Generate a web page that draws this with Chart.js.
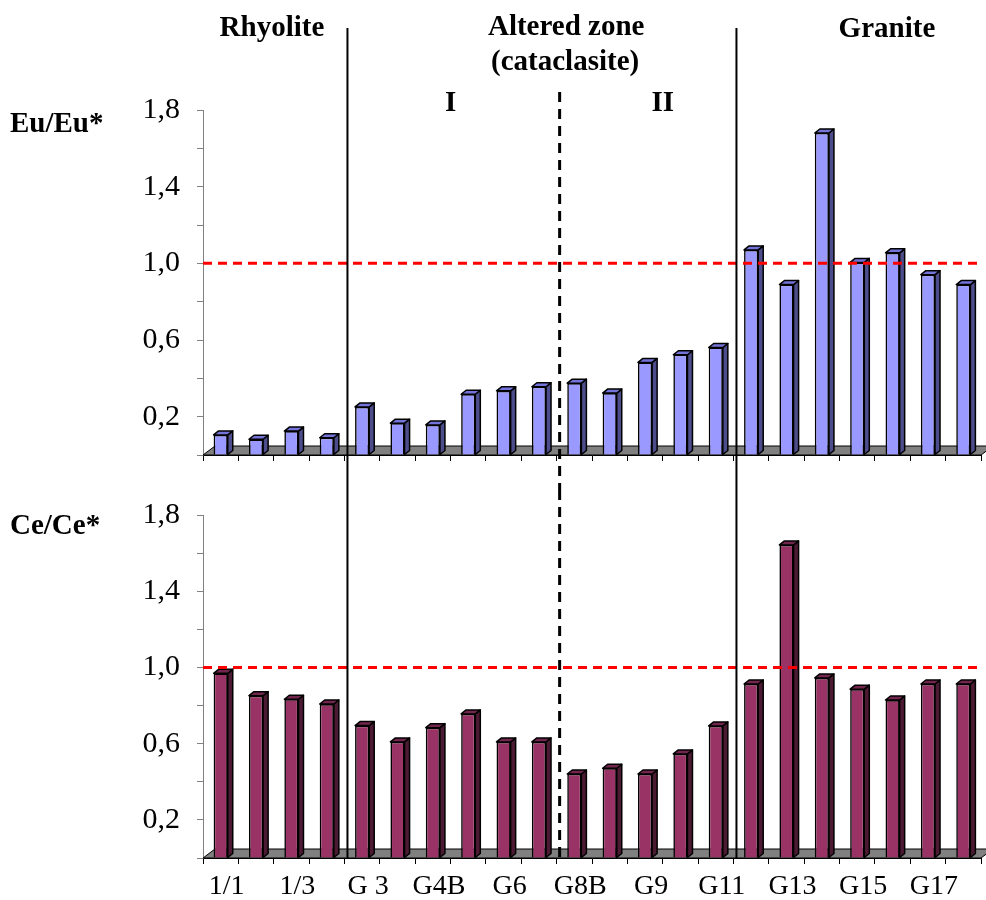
<!DOCTYPE html>
<html>
<head>
<meta charset="utf-8">
<script src="https://cdn.jsdelivr.net/npm/chart.js@4.4.1/dist/chart.umd.min.js"></script>
<style>
  body { margin: 0; background: #fff; }
  #wrap { position: relative; width: 986px; height: 900px; }
  canvas { position: absolute; left: 0; }
</style>
</head>
<body>
<div id="wrap">
  <canvas id="euChart" width="986" height="490" style="top:0"></canvas>
  <canvas id="ceChart" width="986" height="440" style="top:460px"></canvas>
</div>
<script>
// Etiquetas del eje X (solo una de cada dos muestras lleva nombre)
const tickLabels = ['1/1', '', '1/3', '', 'G 3', '', 'G4B', '', 'G6', '', 'G8B', '',
                    'G9', '', 'G11', '', 'G13', '', 'G15', '', 'G17', ''];
const euValues = [0.105, 0.082, 0.125, 0.09, 0.251, 0.166, 0.157, 0.317, 0.335, 0.356, 0.375,
                  0.323, 0.483, 0.523, 0.561, 1.07, 0.889, 1.68, 1.005, 1.055, 0.941, 0.889];
const ceValues = [0.969, 0.852, 0.833, 0.808, 0.695, 0.609, 0.684, 0.756, 0.609, 0.609, 0.441,
                  0.471, 0.441, 0.546, 0.693, 0.913, 1.643, 0.945, 0.886, 0.829, 0.913, 0.913];
const refLevel = 1.0;

// límites de zona: índice de la primera muestra de la zona siguiente
const zoneBreaks = [{ at: 4, dashed: false }, { at: 10, dashed: true }, { at: 15, dashed: false }];
const zoneTitles = [
  { text: 'Rhyolite', pos: 1.95, y: 29 },
  { text: 'Altered zone', pos: 10.27, y: 28 },
  { text: '(cataclasite)', pos: 10.24, y: 63 },
  { text: 'I', pos: 7.0, y: 104 },
  { text: 'II', pos: 13.0, y: 104 },
  { text: 'Granite', pos: 19.34, y: 30 }
];

const FONT = 'Liberation Serif';

function breakX(x, i) {
  const step = x.width / tickLabels.length;
  return x.left + step * i + 3;
}

// Columnas con aspecto 3D, suelo gris, línea de referencia y separadores de zona
const decorPlugin = {
  id: 'decor',
  beforeDatasetsDraw(chart, args, opt) {
    const { ctx, chartArea: a } = chart;
    ctx.save();
    ctx.beginPath();
    ctx.moveTo(a.left, a.bottom);
    ctx.lineTo(a.left + 12, a.bottom - 9);
    ctx.lineTo(a.right + 12, a.bottom - 9);
    ctx.lineTo(a.right, a.bottom);
    ctx.closePath();
    ctx.fillStyle = '#808080';
    ctx.fill();
    ctx.strokeStyle = '#000';
    ctx.lineWidth = 1;
    ctx.stroke();
    ctx.restore();
  },
  afterDatasetsDraw(chart, args, opt) {
    const { ctx, chartArea: a, scales: { x, y } } = chart;
    const dx = 5, dy = 4;
    ctx.save();
    ctx.lineWidth = 1.5;
    ctx.lineJoin = 'round';
    ctx.strokeStyle = '#000';
    chart.getDatasetMeta(0).data.forEach(bar => {
      const p = bar.getProps(['x', 'y', 'base', 'width'], true);
      const l = p.x - p.width / 2, r = p.x + p.width / 2;
      ctx.beginPath();
      ctx.moveTo(r, p.y);
      ctx.lineTo(r + dx, p.y - dy);
      ctx.lineTo(r + dx, p.base - dy);
      ctx.lineTo(r, p.base);
      ctx.closePath();
      ctx.fillStyle = opt.side;
      ctx.fill();
      ctx.stroke();
      ctx.beginPath();
      ctx.moveTo(l, p.y);
      ctx.lineTo(l + dx, p.y - dy);
      ctx.lineTo(r + dx, p.y - dy);
      ctx.lineTo(r, p.y);
      ctx.closePath();
      ctx.fillStyle = opt.top;
      ctx.fill();
      ctx.stroke();
    });

    // línea roja discontinua en 1,0
    const yr = y.getPixelForValue(refLevel);
    ctx.beginPath();
    ctx.setLineDash([9, 6]);
    ctx.strokeStyle = '#ff0000';
    ctx.lineWidth = 3;
    ctx.moveTo(a.left, yr);
    ctx.lineTo(a.right, yr);
    ctx.stroke();

    // separadores verticales
    zoneBreaks.forEach(b => {
      const xp = breakX(x, b.at);
      ctx.beginPath();
      ctx.strokeStyle = '#000';
      if (b.dashed) {
        ctx.setLineDash([10, 7]);
        ctx.lineWidth = 3;
      } else {
        ctx.setLineDash([]);
        ctx.lineWidth = 2;
      }
      ctx.moveTo(xp, b.dashed ? opt.dashTop : opt.lineTop);
      ctx.lineTo(xp, opt.toCanvasEnd ? chart.height : a.bottom);
      ctx.stroke();
    });
    ctx.setLineDash([]);

    // títulos
    ctx.fillStyle = '#000';
    ctx.font = 'bold 29px "' + FONT + '"';
    ctx.textBaseline = 'middle';
    if (opt.titles) {
      ctx.textAlign = 'center';
      zoneTitles.forEach(t => {
        ctx.fillText(t.text, x.left + t.pos * x.width / tickLabels.length, t.y);
      });
    }
    ctx.textAlign = 'left';
    ctx.fillText(opt.label, 10, opt.labelY);
    ctx.restore();
  }
};

function makeChart(id, values, colors, cfg) {
  return new Chart(document.getElementById(id), {
    type: 'bar',
    data: {
      labels: tickLabels,
      datasets: [{
        data: values,
        backgroundColor: colors.front,
        borderColor: '#000',
        borderWidth: 1.6,
        barPercentage: 0.4,
        categoryPercentage: 1
      }]
    },
    options: {
      responsive: false,
      animation: false,
      layout: { padding: { top: cfg.padTop, left: 0, right: 5, bottom: 0 } },
      plugins: {
        legend: { display: false },
        tooltip: { enabled: false },
        decor: {
          side: colors.side, top: colors.top, label: cfg.label, labelY: cfg.labelY,
          titles: cfg.titles, lineTop: cfg.lineTop, dashTop: cfg.dashTop, toCanvasEnd: cfg.toCanvasEnd
        }
      },
      scales: {
        x: {
          grid: { offset: true, drawOnChartArea: false, tickLength: 6, color: '#000' },
          border: { color: '#000', width: 1 },
          ticks: {
            autoSkip: false, maxRotation: 0, labelOffset: 6, padding: 6,
            color: '#000', font: { family: FONT, size: 28 },
            callback: (v, i) => (cfg.showLabels ? tickLabels[i] : '')
          },
          afterFit: s => { s.height = cfg.xHeight; }
        },
        y: {
          min: 0, max: 1.8,
          grid: { drawOnChartArea: false, tickLength: 6, color: '#808080' },
          border: { color: '#808080', width: 1 },
          ticks: {
            stepSize: 0.2, autoSkip: false, padding: 17, color: '#000',
            font: { family: FONT, size: 30 },
            callback: v => (Math.round(v * 10) % 4 === 2 ? v.toFixed(1).replace('.', ',') : '')
          },
          afterFit: s => { s.width = 203; }
        }
      }
    },
    plugins: [decorPlugin]
  });
}

makeChart('euChart', euValues, { front: '#9999ff', side: '#4d4d8c', top: '#7373d9' }, {
  padTop: 110, xHeight: 6, showLabels: false, label: 'Eu/Eu*', labelY: 125,
  titles: true, lineTop: 28, dashTop: 92, toCanvasEnd: true
});
makeChart('ceChart', ceValues, { front: '#993366', side: '#4d1a33', top: '#73264d' }, {
  padTop: 55, xHeight: 42, showLabels: true, label: 'Ce/Ce*', labelY: 67,
  titles: false, lineTop: 30, dashTop: 30, toCanvasEnd: false
});
</script>
</body>
</html>
